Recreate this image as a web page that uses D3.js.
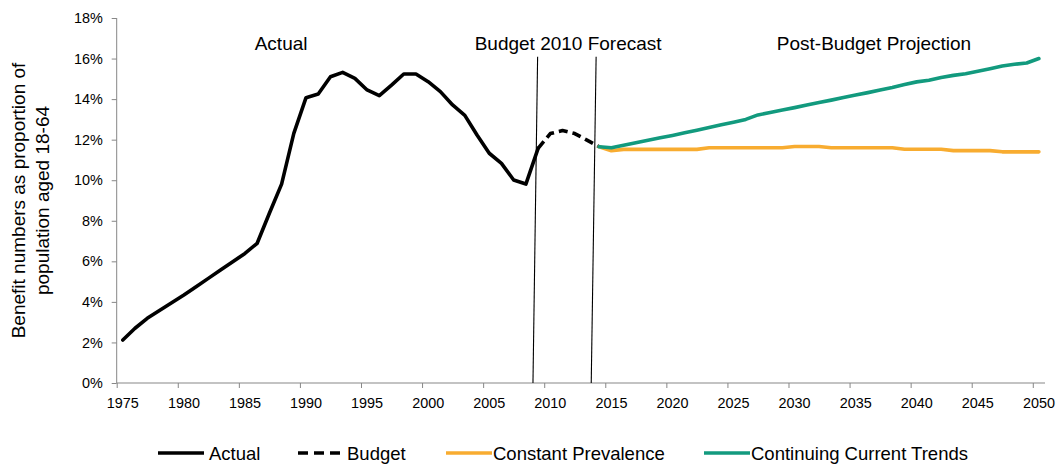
<!DOCTYPE html>
<html>
<head>
<meta charset="utf-8">
<script src="https://cdn.jsdelivr.net/npm/d3@7"></script>
<style>
  body { margin: 0; background: #fff; }
  svg { display: block; }
  text { font-family: "Liberation Sans", Arial, sans-serif; fill: #000; }
</style>
</head>
<body>
<svg id="chart" width="1060" height="466"></svg>
<script>
// ---------------- DATA ----------------
const categories = d3.range(1975, 2051);            // x categories (years)
const xTickLabels = [1975, 1980, 1985, 1990, 1995, 2000, 2005, 2010, 2015, 2020, 2025, 2030, 2035, 2040, 2045, 2050];
const yTickValues = [0, 2, 4, 6, 8, 10, 12, 14, 16, 18];

const actualStart = 1975;
const actualValues = [
  2.12, 2.70, 3.19, 3.58, 3.96, 4.34, 4.75, 5.16, 5.57, 5.98,
  6.39, 6.89, 8.37, 9.81, 12.31, 14.07, 14.25, 15.10, 15.32, 15.02,
  14.45, 14.17, 14.69, 15.24, 15.24, 14.86, 14.37, 13.71, 13.20, 12.23,
  11.33, 10.83, 10.01, 9.81, 11.57
];

const budgetStart = 2009;
const budgetValues = [11.57, 12.30, 12.45, 12.30, 11.98, 11.65];

const projectionStart = 2014;
const constantValues = [
  11.65, 11.45, 11.52, 11.52, 11.52, 11.52, 11.52, 11.52, 11.52, 11.60,
  11.60, 11.60, 11.60, 11.60, 11.60, 11.60, 11.66, 11.66, 11.66, 11.60,
  11.60, 11.60, 11.60, 11.60, 11.60, 11.53, 11.53, 11.53, 11.53, 11.46,
  11.46, 11.46, 11.46, 11.40, 11.40, 11.40, 11.40
];
const trendValues = [
  11.65, 11.60, 11.72, 11.85, 11.97, 12.09, 12.21, 12.34, 12.47, 12.60,
  12.73, 12.86, 13.00, 13.22, 13.34, 13.46, 13.58, 13.71, 13.83, 13.95,
  14.08, 14.20, 14.32, 14.45, 14.57, 14.72, 14.85, 14.93, 15.07, 15.17,
  15.25, 15.37, 15.50, 15.63, 15.72, 15.78, 16.00
];

const seriesNames = ["Actual", "Budget", "Constant Prevalence", "Continuing Current Trends"];
const phaseLabels = ["Actual", "Budget 2010 Forecast", "Post-Budget Projection"];
const yAxisTitle = ["Benefit numbers as proportion of", "population aged 18-64"];

// ---------------- LAYOUT / STYLE ----------------
const plot = { left: 116.7, right: 1045, top: 18, bottom: 383 };
const colors = { actual: "#000000", budget: "#000000", constant: "#F8AC30", trend: "#129A7E", axis: "#878787" };
const phaseLabelPos = [ { year: 1987.96, value: 16.42 }, { year: 2011.46, value: 16.42 }, { year: 2036.5, value: 16.42 } ];
const dividers = [
  { yearTop: 2008.96, yearBottom: 2008.58, valueTop: 16.09 },
  { yearTop: 2013.75, yearBottom: 2013.35, valueTop: 16.09 }
];
const legendLayout = [
  { sx: 158, tx: 210 }, { sx: 298, tx: 348 }, { sx: 446, tx: 494 }, { sx: 704, tx: 752 }
];

// ---------------- SCALES ----------------
const svg = d3.select("#chart");
const x = d3.scaleBand().domain(categories).range([plot.left, plot.right]).padding(0);
const bw = x.bandwidth();
const xc = d => x(d) + bw / 2;
const xCont = d3.scaleLinear().domain([1975, 2050]).range([xc(1975), xc(2050)]);
const y = d3.scaleLinear().domain([0, 18]).range([plot.bottom, plot.top]);

// ---------------- AXES ----------------
const yAxis = d3.axisLeft(y).tickValues(yTickValues).tickSize(5).tickPadding(9)
  .tickFormat(d => d + "%");
const gy = svg.append("g").attr("transform", `translate(${plot.left},0)`).call(yAxis);
gy.select(".domain").attr("stroke", colors.axis).attr("d", `M0,${plot.top}V${plot.bottom}`);
gy.selectAll(".tick line").attr("stroke", colors.axis);
gy.selectAll(".tick text").style("font-size", "14.4px").style("font-family", "'Liberation Sans', Arial, sans-serif").attr("fill", "#000");

// x axis: labels at category centres, tick marks at category boundaries
const xAxisLabels = d3.axisBottom(x).tickValues(xTickLabels).tickSize(0).tickPadding(15);
const gx = svg.append("g").attr("transform", `translate(0,${plot.bottom})`).call(xAxisLabels);
gx.select(".domain").attr("stroke", colors.axis).attr("d", `M${plot.left},0H${plot.right}`);
gx.selectAll(".tick text").style("font-size", "14.4px").style("font-family", "'Liberation Sans', Arial, sans-serif").attr("fill", "#000");

const xTickMarks = d3.axisBottom(d3.scaleLinear().domain([1975, 2050]).range([x(1975), x(2050)]))
  .tickValues(xTickLabels).tickSize(5).tickFormat("");
const gxt = svg.append("g").attr("transform", `translate(0,${plot.bottom})`).call(xTickMarks);
gxt.select(".domain").remove();
gxt.selectAll(".tick line").attr("stroke", colors.axis);

// ---------------- LINES ----------------
const line = d3.line().x(d => xc(d.year)).y(d => y(d.value));
const toPts = (start, vals) => vals.map((v, i) => ({ year: start + i, value: v }));

svg.append("path").datum(toPts(actualStart, actualValues))
  .attr("d", line).attr("fill", "none").attr("stroke", colors.actual)
  .attr("stroke-width", 3.6).attr("stroke-linejoin", "round").attr("stroke-linecap", "round");

svg.append("path").datum(toPts(budgetStart, budgetValues))
  .attr("d", line).attr("fill", "none").attr("stroke", colors.budget)
  .attr("stroke-width", 3.6).attr("stroke-dasharray", "9,5").attr("stroke-linejoin", "round");

svg.append("path").datum(toPts(projectionStart, constantValues))
  .attr("d", line).attr("fill", "none").attr("stroke", colors.constant)
  .attr("stroke-width", 3.6).attr("stroke-linejoin", "round").attr("stroke-linecap", "round");

svg.append("path").datum(toPts(projectionStart, trendValues))
  .attr("d", line).attr("fill", "none").attr("stroke", colors.trend)
  .attr("stroke-width", 3.6).attr("stroke-linejoin", "round").attr("stroke-linecap", "round");

// ---------------- DIVIDERS & PHASE LABELS ----------------
svg.selectAll(".divider").data(dividers).enter().append("line")
  .attr("x1", d => xCont(d.yearTop)).attr("y1", d => y(d.valueTop))
  .attr("x2", d => xCont(d.yearBottom)).attr("y2", y(0))
  .attr("stroke", "#000").attr("stroke-width", 1.1);

svg.selectAll(".phase").data(phaseLabels).enter().append("text")
  .attr("x", (d, i) => xCont(phaseLabelPos[i].year))
  .attr("y", (d, i) => y(phaseLabelPos[i].value))
  .attr("text-anchor", "middle").style("font-size", "19px").text(d => d);

// ---------------- Y AXIS TITLE ----------------
const yt = svg.append("text").attr("transform", `translate(0,${(plot.top + plot.bottom) / 2}) rotate(-90)`)
  .attr("text-anchor", "middle").style("font-size", "19px");
yt.append("tspan").attr("x", 0).attr("y", 25).text(yAxisTitle[0]);
yt.append("tspan").attr("x", 0).attr("y", 49).text(yAxisTitle[1]);

// ---------------- LEGEND ----------------
const legendY = 453;
const legendStyles = [
  { color: colors.actual, dash: null },
  { color: colors.budget, dash: "10,6" },
  { color: colors.constant, dash: null },
  { color: colors.trend, dash: null }
];
const lg = svg.append("g");
seriesNames.forEach((name, i) => {
  const L = legendLayout[i];
  lg.append("line").attr("x1", L.sx).attr("x2", L.sx + 46).attr("y1", legendY).attr("y2", legendY)
    .attr("stroke", legendStyles[i].color).attr("stroke-width", 3.6)
    .attr("stroke-dasharray", legendStyles[i].dash);
  lg.append("text").attr("x", L.tx - 1).attr("y", legendY + 6.5).style("font-size", "18.5px").text(name);
});
</script>
</body>
</html>
